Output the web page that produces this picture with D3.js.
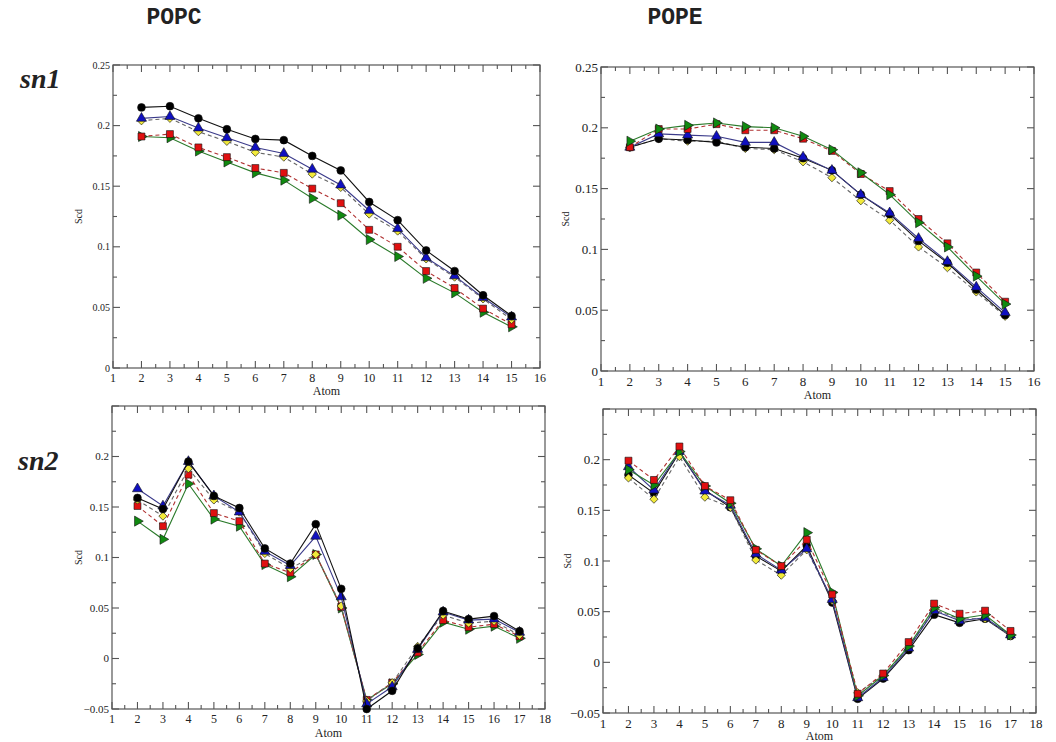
<!DOCTYPE html>
<html>
<head>
<meta charset="utf-8">
<script src="https://cdn.jsdelivr.net/npm/d3@7"></script>
<style>
  body { margin: 0; background: #fff; }
  svg text { font-family: 'Liberation Serif', 'DejaVu Serif', serif; fill: #222; }
</style>
</head>
<body>
<script>
// order parameter data
const atomsSn1 = [2, 3, 4, 5, 6, 7, 8, 9, 10, 11, 12, 13, 14, 15];
const atomsSn2 = [2, 3, 4, 5, 6, 7, 8, 9, 10, 11, 12, 13, 14, 15, 16, 17];

// POPC sn1
const popcSn1Black  = [0.215, 0.216, 0.206, 0.197, 0.189, 0.188, 0.175, 0.163, 0.137, 0.122, 0.097, 0.080, 0.060, 0.043];
const popcSn1Blue   = [0.206, 0.2075, 0.198, 0.190, 0.182, 0.177, 0.164, 0.151, 0.130, 0.115, 0.091, 0.076, 0.058, 0.042];
const popcSn1Yellow = [0.204, 0.206, 0.195, 0.187, 0.178, 0.174, 0.160, 0.149, 0.127, 0.113, 0.090, 0.075, 0.057, 0.040];
const popcSn1Red    = [0.191, 0.193, 0.182, 0.174, 0.165, 0.161, 0.148, 0.136, 0.114, 0.100, 0.080, 0.066, 0.049, 0.036];
const popcSn1Green  = [0.191, 0.190, 0.179, 0.170, 0.161, 0.155, 0.140, 0.126, 0.106, 0.092, 0.074, 0.062, 0.046, 0.034];

// POPE sn1
const popeSn1Black  = [0.184, 0.191, 0.190, 0.188, 0.184, 0.183, 0.175, 0.165, 0.145, 0.129, 0.107, 0.089, 0.067, 0.046];
const popeSn1Blue   = [0.184, 0.195, 0.194, 0.193, 0.188, 0.188, 0.176, 0.165, 0.145, 0.130, 0.109, 0.090, 0.069, 0.048];
const popeSn1Yellow = [0.184, 0.191, 0.189, 0.189, 0.183, 0.182, 0.172, 0.159, 0.140, 0.124, 0.102, 0.085, 0.065, 0.045];
const popeSn1Red    = [0.184, 0.199, 0.199, 0.203, 0.198, 0.198, 0.191, 0.181, 0.162, 0.148, 0.125, 0.105, 0.081, 0.057];
const popeSn1Green  = [0.189, 0.199, 0.202, 0.204, 0.201, 0.200, 0.193, 0.182, 0.163, 0.145, 0.122, 0.102, 0.078, 0.055];

// POPC sn2
const popcSn2Black  = [0.159, 0.148, 0.195, 0.161, 0.149, 0.109, 0.094, 0.133, 0.069, -0.050, -0.032, 0.010, 0.047, 0.039, 0.042, 0.027];
const popcSn2Blue   = [0.168, 0.151, 0.195, 0.161, 0.145, 0.106, 0.092, 0.121, 0.061, -0.045, -0.028, 0.009, 0.046, 0.038, 0.039, 0.026];
const popcSn2Yellow = [0.157, 0.141, 0.188, 0.157, 0.145, 0.104, 0.089, 0.103, 0.052, -0.042, -0.024, 0.012, 0.043, 0.035, 0.037, 0.023];
const popcSn2Red    = [0.151, 0.131, 0.182, 0.144, 0.136, 0.094, 0.085, 0.103, 0.051, -0.041, -0.024, 0.006, 0.038, 0.031, 0.034, 0.022];
const popcSn2Green  = [0.136, 0.118, 0.173, 0.138, 0.131, 0.093, 0.081, 0.103, 0.050, -0.041, -0.025, 0.004, 0.036, 0.029, 0.032, 0.020];

// POPE sn2
const popeSn2Black  = [0.185, 0.167, 0.207, 0.170, 0.153, 0.105, 0.090, 0.115, 0.059, -0.036, -0.016, 0.012, 0.047, 0.039, 0.043, 0.026];
const popeSn2Blue   = [0.193, 0.170, 0.208, 0.169, 0.155, 0.107, 0.091, 0.112, 0.062, -0.035, -0.015, 0.014, 0.051, 0.041, 0.044, 0.027];
const popeSn2Yellow = [0.182, 0.161, 0.203, 0.163, 0.153, 0.101, 0.086, 0.111, 0.061, -0.030, -0.013, 0.015, 0.052, 0.043, 0.043, 0.026];
const popeSn2Red    = [0.199, 0.180, 0.213, 0.174, 0.160, 0.111, 0.095, 0.121, 0.067, -0.031, -0.011, 0.020, 0.058, 0.048, 0.051, 0.031];
const popeSn2Green  = [0.190, 0.175, 0.208, 0.174, 0.157, 0.112, 0.095, 0.128, 0.069, -0.033, -0.013, 0.016, 0.054, 0.043, 0.047, 0.027];

const yTicksSn1 = [0, 0.05, 0.1, 0.15, 0.2, 0.25];
const yTicksSn2 = [-0.05, 0, 0.05, 0.1, 0.15, 0.2];

// marker + line look for each series
const styles = {
  black:  {sym: d3.symbolCircle,   fill: '#000',    line: '#111',    dash: null,  size: 48, rot: 0},
  blue:   {sym: d3.symbolTriangle, fill: '#1010c0', line: '#3a3a8a', dash: null,  size: 44, rot: 0},
  yellow: {sym: d3.symbolSquare,   fill: '#f2ea3a', line: '#666',    dash: '4,3', size: 34, rot: 45},
  red:    {sym: d3.symbolSquare,   fill: '#e01010', line: '#b03030', dash: '4,3', size: 48, rot: 0},
  green:  {sym: d3.symbolTriangle, fill: '#108a10', line: '#2a7a2a', dash: null,  size: 44, rot: 90}
};

const panels = [
  {x0: 113, x1: 540, y0: 65,  y1: 368, xMax: 16, yDom: [0, 0.25],     yTicks: yTicksSn1, yFont: 10, xFont: 12,
   atoms: atomsSn1, scdX: 82,  atomY: 395,
   series: {black: popcSn1Black, blue: popcSn1Blue, yellow: popcSn1Yellow, red: popcSn1Red, green: popcSn1Green},
   order: ['green', 'red', 'yellow', 'blue', 'black']},
  {x0: 601, x1: 1034, y0: 67, y1: 371, xMax: 16, yDom: [0, 0.25],     yTicks: yTicksSn1, yFont: 13, xFont: 13,
   atoms: atomsSn1, scdX: 569, atomY: 399,
   series: {black: popeSn1Black, blue: popeSn1Blue, yellow: popeSn1Yellow, red: popeSn1Red, green: popeSn1Green},
   order: ['yellow', 'black', 'blue', 'red', 'green']},
  {x0: 112, x1: 545, y0: 406, y1: 709, xMax: 18, yDom: [-0.05, 0.25], yTicks: yTicksSn2, yFont: 11, xFont: 12,
   atoms: atomsSn2, scdX: 82,  atomY: 737,
   series: {black: popcSn2Black, blue: popcSn2Blue, yellow: popcSn2Yellow, red: popcSn2Red, green: popcSn2Green},
   order: ['green', 'red', 'yellow', 'blue', 'black']},
  {x0: 603, x1: 1036, y0: 409, y1: 713, xMax: 18, yDom: [-0.05, 0.25], yTicks: yTicksSn2, yFont: 13, xFont: 13,
   atoms: atomsSn2, scdX: 571, atomY: 740,
   series: {black: popeSn2Black, blue: popeSn2Blue, yellow: popeSn2Yellow, red: popeSn2Red, green: popeSn2Green},
   order: ['black', 'yellow', 'blue', 'green', 'red']}
];

const svg = d3.select('body').append('svg')
    .attr('width', 1056)
    .attr('height', 742);

// headings
svg.append('text').attr('x', 174).attr('y', 24).attr('text-anchor', 'middle')
    .style('font-family', "'Liberation Mono', 'DejaVu Sans Mono', monospace")
    .style('font-weight', 'bold').style('font-size', '23px').text('POPC');
svg.append('text').attr('x', 675).attr('y', 24).attr('text-anchor', 'middle')
    .style('font-family', "'Liberation Mono', 'DejaVu Sans Mono', monospace")
    .style('font-weight', 'bold').style('font-size', '23px').text('POPE');
svg.append('text').attr('x', 20).attr('y', 88)
    .style('font-style', 'italic').style('font-weight', 'bold').style('font-size', '28px').text('sn1');
svg.append('text').attr('x', 18).attr('y', 470)
    .style('font-style', 'italic').style('font-weight', 'bold').style('font-size', '28px').text('sn2');

panels.forEach(function(p) {
  const x = d3.scaleLinear().domain([1, p.xMax]).range([p.x0, p.x1]);
  const y = d3.scaleLinear().domain(p.yDom).range([p.y1, p.y0]);
  const g = svg.append('g');

  // frame
  g.append('rect')
      .attr('x', p.x0).attr('y', p.y0)
      .attr('width', p.x1 - p.x0).attr('height', p.y1 - p.y0)
      .attr('fill', 'none').attr('stroke', '#555').attr('stroke-width', 1.2);

  const xMajor = d3.range(1, p.xMax + 1);
  const xMinor = d3.range(1.5, p.xMax, 1);
  const yMajor = d3.range(p.yDom[0], p.yDom[1] + 0.001, 0.05);
  const yMinor = d3.range(p.yDom[0] + 0.025, p.yDom[1], 0.05);

  // inward ticks on all four sides
  const tick = (x1, y1, x2, y2) => g.append('line')
      .attr('x1', x1).attr('y1', y1).attr('x2', x2).attr('y2', y2)
      .attr('stroke', '#555').attr('stroke-width', 1.1);
  xMajor.forEach(v => { tick(x(v), p.y1, x(v), p.y1 - 7); tick(x(v), p.y0, x(v), p.y0 + 7); });
  xMinor.forEach(v => { tick(x(v), p.y1, x(v), p.y1 - 4); tick(x(v), p.y0, x(v), p.y0 + 4); });
  yMajor.forEach(v => { tick(p.x0, y(v), p.x0 + 7, y(v)); tick(p.x1, y(v), p.x1 - 7, y(v)); });
  yMinor.forEach(v => { tick(p.x0, y(v), p.x0 + 4, y(v)); tick(p.x1, y(v), p.x1 - 4, y(v)); });

  // tick labels
  g.selectAll('.xl').data(xMajor).enter().append('text')
      .attr('x', d => x(d)).attr('y', p.y1 + p.xFont + 2)
      .attr('text-anchor', 'middle').style('font-size', p.xFont + 'px')
      .text(d => d);
  g.selectAll('.yl').data(p.yTicks).enter().append('text')
      .attr('x', p.x0 - 3).attr('y', d => y(d)).attr('dy', '0.35em')
      .attr('text-anchor', 'end').style('font-size', p.yFont + 'px')
      .text(d => d3.format('~g')(+d.toFixed(3)));

  // axis titles
  g.append('text').attr('x', (p.x0 + p.x1) / 2).attr('y', p.atomY)
      .attr('text-anchor', 'middle').style('font-size', '12px').text('Atom');
  g.append('text')
      .attr('transform', 'translate(' + p.scdX + ',' + ((p.y0 + p.y1) / 2) + ') rotate(-90)')
      .attr('text-anchor', 'middle').style('font-size', '10px').text('Scd');

  const line = d3.line().x((d, i) => x(p.atoms[i])).y(d => y(d));

  p.order.forEach(function(key) {
    const s = styles[key];
    const vals = p.series[key];
    g.append('path').datum(vals)
        .attr('d', line)
        .attr('fill', 'none')
        .attr('stroke', s.line)
        .attr('stroke-width', 1.1)
        .attr('stroke-dasharray', s.dash);
    g.selectAll('.m-' + key).data(vals).enter().append('path')
        .attr('transform', (d, i) => 'translate(' + x(p.atoms[i]) + ',' + y(d) + ') rotate(' + s.rot + ')')
        .attr('d', d3.symbol().type(s.sym).size(s.size))
        .attr('fill', s.fill)
        .attr('stroke', '#111')
        .attr('stroke-width', 0.6);
  });
});
</script>
</body>
</html>
